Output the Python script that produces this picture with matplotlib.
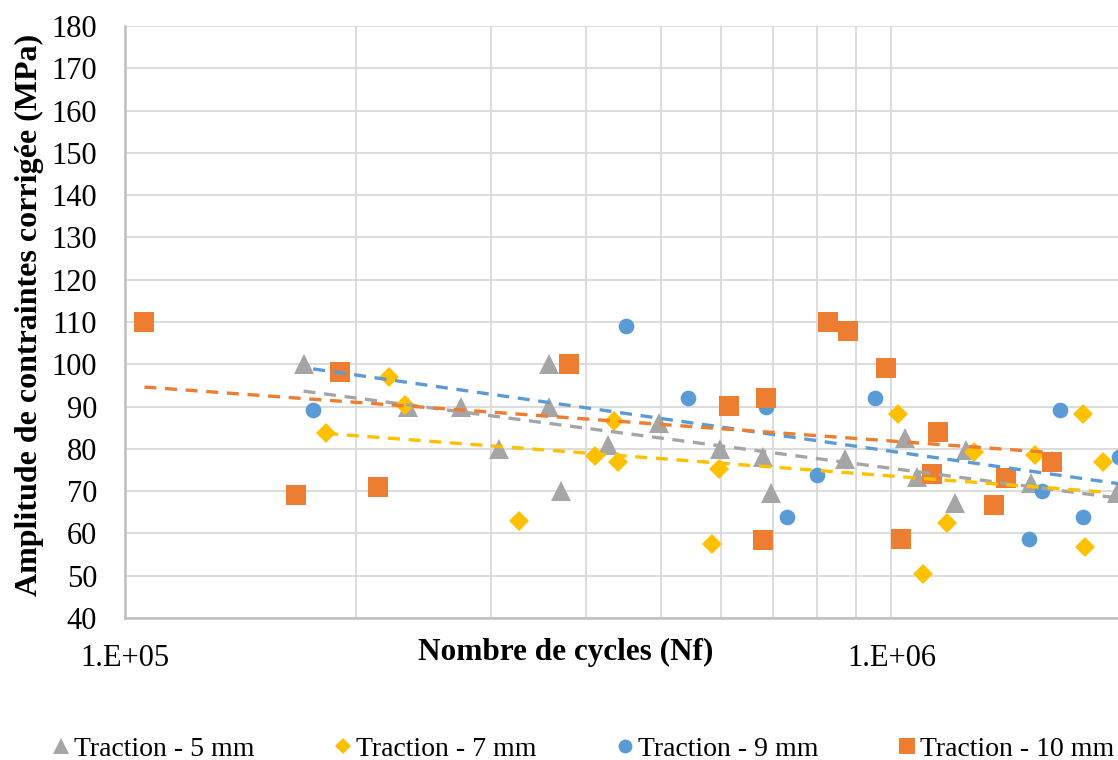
import numpy as np
import matplotlib
matplotlib.use("Agg")
import matplotlib.pyplot as plt
from matplotlib.ticker import LogLocator, FixedLocator, NullFormatter, FixedFormatter
from matplotlib.lines import Line2D

plt.rcParams['font.family'] = ['Liberation Serif', 'DejaVu Serif']

# ---------------- data ----------------
labels = ["Traction - 5 mm", "Traction - 7 mm", "Traction - 9 mm", "Traction - 10 mm"]
colors = ["#A5A5A5", "#FFC000", "#5B9BD5", "#ED7D31"]
markers = ["^", "D", "o", "s"]

x5 = [1.71e5, 2.34e5, 2.74e5, 3.08e5, 3.57e5, 3.57e5, 3.71e5, 4.27e5, 4.97e5, 5.97e5,
      6.79e5, 6.96e5, 8.71e5, 1.04e6, 1.08e6, 1.25e6, 1.21e6, 1.52e6, 1.97e6]
y5 = [100, 90, 90, 80, 100, 90, 70, 81, 86, 80,
      78, 69.5, 77.6, 82.6, 73.4, 79.7, 67.2, 72, 69.5]

x7 = [1.83e5, 2.21e5, 2.32e5, 3.27e5, 4.11e5, 4.35e5, 4.40e5, 5.83e5, 5.96e5, 1.02e6,
      1.10e6, 1.18e6, 1.28e6, 1.54e6, 1.78e6, 1.79e6, 1.89e6]
y7 = [83.8, 97, 90.4, 63, 78.3, 86.6, 77, 57.6, 75.2, 88.3,
      50.4, 62.5, 79.3, 78.6, 88.3, 56.8, 77]

x9 = [1.76e5, 4.50e5, 5.42e5, 6.85e5, 7.30e5, 7.99e5, 9.51e5, 1.51e6, 1.57e6, 1.66e6,
      1.78e6, 1.98e6]
y9 = [89.2, 109, 92, 90, 64, 73.7, 92, 58.6, 70, 89.2,
      64, 78]

x10 = [1.06e5, 1.67e5, 1.91e5, 2.14e5, 3.79e5, 6.13e5, 6.85e5, 6.79e5, 8.26e5, 8.77e5,
       9.83e5, 1.03e6, 1.15e6, 1.13e6, 1.36e6, 1.41e6, 1.62e6]
y10 = [110, 69, 98.2, 71, 100, 90.1, 92, 58.4, 110, 107.9,
       99.1, 58.6, 84, 74.1, 66.7, 73.1, 76.9]

series_x = [x5, x7, x9, x10]
series_y = [y5, y7, y9, y10]

xticks = [1e5, 1e6]
xticklabels = ["1.E+05", "1.E+06"]
yticks = list(range(40, 181, 10))

# ---------------- figure ----------------
W, H = 1118, 760
fig = plt.figure(figsize=(W / 100, H / 100), dpi=100)
ax = fig.add_axes([125 / W, 1 - 618 / H, (W - 125) / W, (618 - 26) / H])

ax.set_xscale("log")
ax.set_xlim(1e5, 1.975e6)
ax.set_ylim(40, 180)

msizes = [14.5, 10.5, 11.3, 14.2]
for i in range(4):
    ax.plot(series_x[i], series_y[i], linestyle="none", marker=markers[i],
            markersize=msizes[i], color=colors[i], markeredgewidth=0,
            zorder=3 + i, clip_on=True)

# logarithmic trendlines (y = a ln x + b), as in Excel
for i in range(4):
    xs = np.array(series_x[i], dtype=float)
    ys = np.array(series_y[i], dtype=float)
    a, b = np.polyfit(np.log(xs), ys, 1)
    xl = np.array([xs.min(), xs.max()])
    ax.plot(xl, a * np.log(xl) + b, color=colors[i], lw=2.4,
            linestyle=(0, (3.6, 2.6)), zorder=10 + i)

# grid
ax.xaxis.set_major_locator(FixedLocator(xticks))
ax.xaxis.set_major_formatter(FixedFormatter(xticklabels))
ax.xaxis.set_minor_locator(LogLocator(base=10, subs=np.arange(2, 10)))
ax.xaxis.set_minor_formatter(NullFormatter())
ax.set_yticks(yticks)
ax.grid(True, which="major", color="#D9D9D9", lw=1.3, zorder=0)
ax.grid(True, which="minor", axis="x", color="#D9D9D9", lw=1.3, zorder=0)
ax.set_axisbelow(True)

for s in ["top", "right"]:
    ax.spines[s].set_visible(False)
for s in ["left", "bottom"]:
    ax.spines[s].set_color("#BFBFBF")
    ax.spines[s].set_linewidth(1.8)

ax.tick_params(axis="both", which="both", length=0, labelsize=22, colors="black")
ax.tick_params(axis="y", pad=20)
ax.tick_params(axis="x", pad=19)

# axis titles
fig.text(566 / W, 1 - 652 / H, "Nombre de cycles (Nf)", ha="center", va="center",
         fontsize=22.5, fontweight="bold")
fig.text(29 / W, 1 - 315 / H, "Amplitude de contraintes corrigée (MPa)", ha="center",
         va="center", rotation=90, fontsize=23, fontweight="bold")

# legend
handles = [Line2D([], [], linestyle="none", marker=markers[i], color=colors[i],
                  markersize=[11.5, 8.5, 10, 11.5][i], markeredgewidth=0) for i in range(4)]
fig.legend(handles, labels, loc="center", bbox_to_anchor=(583.5 / W, 1 - 749 / H),
           ncol=4, frameon=False, fontsize=20, handlelength=0.6, handletextpad=0.15,
           columnspacing=2.9, borderaxespad=0)

fig.savefig("out.png", dpi=100)
